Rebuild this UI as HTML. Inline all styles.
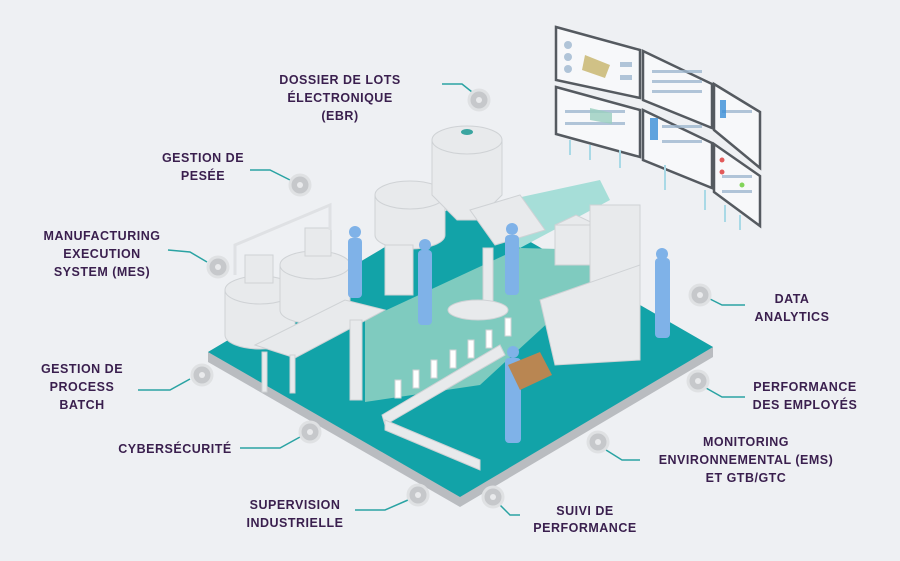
<!DOCTYPE html>
<html><head><meta charset="utf-8"><style>
html,body{margin:0;padding:0;background:#eef0f3;}
svg{display:block}
text{font-family:"Liberation Sans",sans-serif;font-weight:bold;fill:#3a1f4e;font-size:12.5px;text-anchor:middle;letter-spacing:0.5px}
</style></head><body>
<svg width="900" height="561" viewBox="0 0 900 561" xmlns="http://www.w3.org/2000/svg">
<rect width="900" height="561" fill="#eef0f3"/>
<!-- screens -->
<g stroke="#555a60" stroke-width="2.5" fill="#f7f8fa">
<polygon points="556,27 640,50 640,98 556,80"/>
<polygon points="556,87 640,110 640,157 556,134"/>
<polygon points="643,51 712,84 712,128 643,100"/>
<polygon points="643,110 712,143 712,188 643,160"/>
<polygon points="714,84 760,112 760,168 714,130"/>
<polygon points="714,144 760,176 760,226 714,192"/>
</g>
<g fill="#9fb8d0" opacity="0.8">
<circle cx="568" cy="45" r="4"/><circle cx="568" cy="57" r="4"/><circle cx="568" cy="69" r="4"/>
<rect x="620" y="62" width="12" height="5"/><rect x="620" y="75" width="12" height="5"/>
<rect x="652" y="70" width="50" height="3"/><rect x="652" y="80" width="50" height="3"/><rect x="652" y="90" width="50" height="3"/>
<rect x="662" y="125" width="40" height="3"/><rect x="662" y="140" width="40" height="3"/>
<rect x="722" y="110" width="30" height="3"/><rect x="722" y="175" width="30" height="3"/><rect x="722" y="190" width="30" height="3"/>
<rect x="565" y="110" width="60" height="3"/><rect x="565" y="122" width="60" height="3"/>
</g>
<g fill="#3a8fd8" opacity="0.8">
<polygon points="585,55 610,65 605,78 582,70" fill="#c7b46a"/>
<rect x="650" y="118" width="8" height="22"/><rect x="720" y="100" width="6" height="18"/>
<polygon points="590,108 612,113 612,124 590,120" fill="#9ad0c0"/>
<circle cx="722" cy="160" r="2.5" fill="#d33"/><circle cx="722" cy="172" r="2.5" fill="#d33"/><circle cx="742" cy="185" r="2.5" fill="#6c3"/>
</g>
<g stroke="#a9d9e6" stroke-width="2">
<line x1="570" y1="140" x2="570" y2="155"/><line x1="590" y1="145" x2="590" y2="160"/><line x1="620" y1="150" x2="620" y2="168"/>
<line x1="665" y1="165" x2="665" y2="190"/><line x1="705" y1="190" x2="705" y2="210"/><line x1="740" y1="215" x2="740" y2="230"/><line x1="725" y1="205" x2="725" y2="222"/>
</g>
<!-- platform -->
<polygon points="208,352 461,202 713,347 713,357 460,507 208,362" fill="#b9bcc0"/>
<polygon points="208,352 461,202 713,347 460,497" fill="#12a3a8"/>
<polygon points="365,402 365,320 520,248 600,250 600,275 480,385" fill="#7fcbbf"/>
<polygon points="470,208 600,180 610,200 520,248" fill="#a6ded8"/>
<!-- left tanks -->
<g fill="#e8eaec" stroke="#cfd2d5">
<path d="M225,290 h70 v45 a35,14 0 0 1 -70,0 z"/>
<ellipse cx="260" cy="290" rx="35" ry="14"/>
<path d="M280,265 h70 v45 a35,14 0 0 1 -70,0 z"/>
<ellipse cx="315" cy="265" rx="35" ry="14"/>
<rect x="245" y="255" width="28" height="28"/><rect x="305" y="228" width="26" height="28"/>
<polygon points="255,345 345,300 385,310 295,358"/>
<rect x="262" y="352" width="5" height="40"/><rect x="290" y="355" width="5" height="38"/>
<path d="M375,195 h70 v40 a35,14 0 0 1 -70,0 z"/>
<ellipse cx="410" cy="195" rx="35" ry="14"/>
<path d="M432,140 h70 v55 l-25,25 h-20 l-25,-25 z"/>
<ellipse cx="467" cy="140" rx="35" ry="14"/>
<polygon points="470,210 520,195 545,230 495,245"/>
<rect x="555" y="225" width="42" height="40"/>
<polygon points="555,225 576,215 597,225"/>
<rect x="590" y="205" width="50" height="150"/>
<polygon points="540,300 640,265 640,360 555,365"/>
<rect x="385" y="245" width="28" height="50"/>
<polygon points="382,415 500,345 505,355 385,425"/>
<polygon points="385,420 480,460 480,470 385,430"/>
<rect x="350" y="320" width="12" height="80"/>
<rect x="483" y="248" width="10" height="65"/>
<ellipse cx="478" cy="310" rx="30" ry="10"/>
<polyline points="235,275 235,245 330,205 330,230" fill="none" stroke="#dfe1e4" stroke-width="3"/>
</g>
<ellipse cx="467" cy="132" rx="6" ry="3" fill="#3aa5a0"/>
<!-- bottles -->
<g fill="#fff" stroke="#d0d3d6">
<rect x="395" y="380" width="6" height="18"/><rect x="413" y="370" width="6" height="18"/><rect x="431" y="360" width="6" height="18"/><rect x="450" y="350" width="6" height="18"/><rect x="468" y="340" width="6" height="18"/><rect x="486" y="330" width="6" height="18"/><rect x="505" y="318" width="6" height="18"/>
</g>
<!-- workers -->
<g fill="#7fb2e8">
<rect x="348" y="238" width="14" height="60" rx="4"/>
<rect x="418" y="250" width="14" height="75" rx="4"/>
<rect x="505" y="235" width="14" height="60" rx="4"/>
<rect x="655" y="258" width="15" height="80" rx="4"/>
<rect x="505" y="358" width="16" height="85" rx="4"/>
<circle cx="355" cy="232" r="6"/><circle cx="425" cy="245" r="6"/><circle cx="512" cy="229" r="6"/><circle cx="662" cy="254" r="6"/><circle cx="513" cy="352" r="6"/>
</g>
<polygon points="508,365 540,352 552,375 520,390" fill="#b98652"/>
<!-- connectors -->
<g stroke="#2aa3a3" stroke-width="1.5" fill="none">
<polyline points="442,84 462,84 472,92"/>
<polyline points="250,170 270,170 290,180"/>
<polyline points="168,250 190,252 207,262"/>
<polyline points="138,390 170,390 190,379"/>
<polyline points="240,448 280,448 300,437"/>
<polyline points="355,510 385,510 408,500"/>
<polyline points="520,515 510,515 500,505"/>
<polyline points="640,460 622,460 606,450"/>
<polyline points="745,397 722,397 706,388"/>
<polyline points="745,305 722,305 708,298"/>
</g>
<g fill="#c6c8cb" stroke="#dfe1e3" stroke-width="3">
<circle cx="479" cy="100" r="10"/><circle cx="300" cy="185" r="10"/><circle cx="218" cy="267" r="10"/>
<circle cx="202" cy="375" r="10"/><circle cx="310" cy="432" r="10"/><circle cx="418" cy="495" r="10"/>
<circle cx="493" cy="497" r="10"/><circle cx="598" cy="442" r="10"/><circle cx="698" cy="381" r="10"/><circle cx="700" cy="295" r="10"/>
</g>
<g fill="#e9eaec"><circle cx="479" cy="100" r="3"/><circle cx="300" cy="185" r="3"/><circle cx="218" cy="267" r="3"/><circle cx="202" cy="375" r="3"/><circle cx="310" cy="432" r="3"/><circle cx="418" cy="495" r="3"/><circle cx="493" cy="497" r="3"/><circle cx="598" cy="442" r="3"/><circle cx="698" cy="381" r="3"/><circle cx="700" cy="295" r="3"/></g>
<!-- labels -->
<text x="340" y="84">DOSSIER DE LOTS</text><text x="340" y="102">ÉLECTRONIQUE</text><text x="340" y="120">(EBR)</text>
<text x="203" y="162">GESTION DE</text><text x="203" y="180">PESÉE</text>
<text x="102" y="240">MANUFACTURING</text><text x="102" y="258">EXECUTION</text><text x="102" y="276">SYSTEM (MES)</text>
<text x="82" y="373">GESTION DE</text><text x="82" y="391">PROCESS</text><text x="82" y="409">BATCH</text>
<text x="175" y="453">CYBERSÉCURITÉ</text>
<text x="295" y="509">SUPERVISION</text><text x="295" y="527">INDUSTRIELLE</text>
<text x="585" y="515">SUIVI DE</text><text x="585" y="532">PERFORMANCE</text>
<text x="746" y="446">MONITORING</text><text x="746" y="464">ENVIRONNEMENTAL (EMS)</text><text x="746" y="482">ET GTB/GTC</text>
<text x="805" y="391">PERFORMANCE</text><text x="805" y="409">DES EMPLOYÉS</text>
<text x="792" y="303">DATA</text><text x="792" y="321">ANALYTICS</text>
</svg>
</body></html>
